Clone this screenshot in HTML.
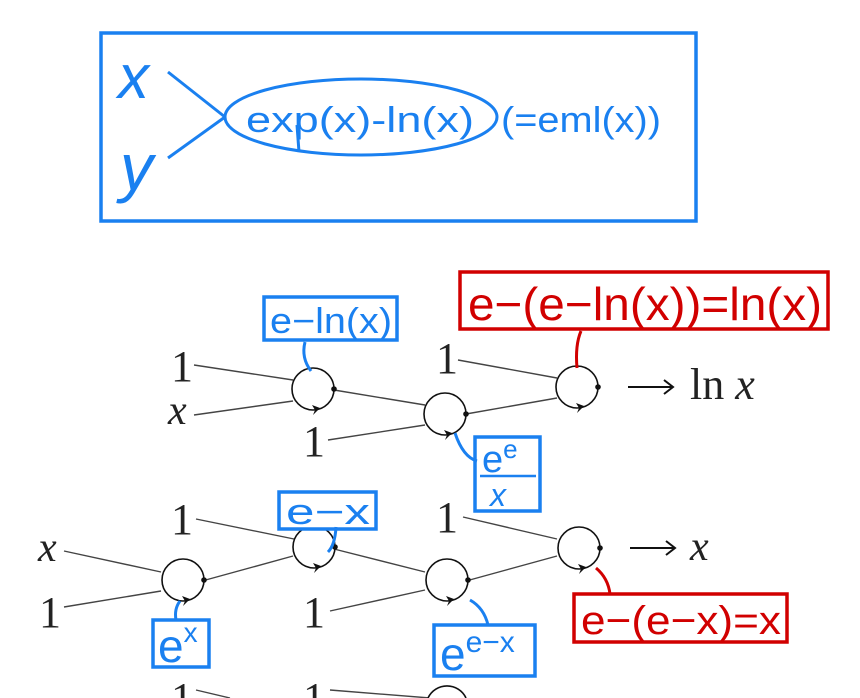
<!DOCTYPE html>
<html><head><meta charset="utf-8"><style>
html,body{margin:0;padding:0;background:#fff;width:860px;height:698px;overflow:hidden}
svg{display:block}
.b{fill:#1a80f0;font-family:"Liberation Sans",sans-serif}
.r{fill:#d10000;font-family:"Liberation Sans",sans-serif}
.m{fill:#222;font-family:"Liberation Serif",serif;font-size:44px}
.mi{fill:#222;font-family:"Liberation Serif",serif;font-size:42px;font-style:italic}
</style></head><body>
<svg width="860" height="698" viewBox="0 0 860 698" xmlns="http://www.w3.org/2000/svg">
<rect x="101" y="33" width="595" height="188" fill="none" stroke="#1a80f0" stroke-width="3.5"/>
<text x="118" y="98" class="b" font-size="62" font-style="italic">x</text>
<text x="120" y="190" class="b" font-size="66" font-style="italic">y</text>
<line x1="168" y1="72" x2="225" y2="117" stroke="#1a80f0" stroke-width="3"/>
<line x1="168" y1="158" x2="225" y2="117" stroke="#1a80f0" stroke-width="3"/>
<ellipse cx="361" cy="117" rx="136" ry="38" fill="none" stroke="#1a80f0" stroke-width="3"/>
<line x1="297" y1="125" x2="299" y2="152" stroke="#1a80f0" stroke-width="3"/>
<text x="246" y="132" class="b" font-size="36" textLength="228" lengthAdjust="spacingAndGlyphs">exp(x)-ln(x)</text>
<text x="501" y="132" class="b" font-size="36" textLength="160" lengthAdjust="spacingAndGlyphs">(=eml(x))</text>

<g stroke="#444" stroke-width="1.4" fill="none">
<line x1="194" y1="365" x2="293" y2="380"/>
<line x1="194" y1="415" x2="293" y2="401"/>
<line x1="334" y1="390" x2="425" y2="405"/>
<line x1="458" y1="360" x2="557" y2="378"/>
<line x1="328" y1="440" x2="425" y2="425"/>
<line x1="466" y1="414" x2="557" y2="398"/>
<line x1="64" y1="551" x2="161" y2="572"/>
<line x1="64" y1="607" x2="161" y2="591"/>
<line x1="196" y1="519" x2="294" y2="539"/>
<line x1="202" y1="581" x2="293" y2="556"/>
<line x1="330" y1="611" x2="425" y2="590"/>
<line x1="334" y1="549" x2="425" y2="572"/>
<line x1="463" y1="517" x2="557" y2="539"/>
<line x1="466" y1="581" x2="557" y2="556"/>
<line x1="196" y1="690" x2="230" y2="698"/>
<line x1="330" y1="690" x2="430" y2="698"/>
</g>
<g stroke="#111" stroke-width="1.6" fill="#fff">
<circle cx="313" cy="389" r="21"/>
<circle cx="445" cy="414" r="21"/>
<circle cx="577" cy="387" r="21"/>
<circle cx="183" cy="580" r="21"/>
<circle cx="314" cy="547" r="21"/>
<circle cx="447" cy="580" r="21"/>
<circle cx="579" cy="548" r="21"/>
<path d="M428 698 a21 21 0 0 1 38 0"/>
</g>
<g fill="#111">
<circle cx="334" cy="389" r="2.8"/><circle cx="466" cy="414" r="2.8"/><circle cx="598" cy="387" r="2.8"/>
<circle cx="204" cy="580" r="2.8"/><circle cx="335" cy="547" r="2.8"/><circle cx="468" cy="580" r="2.8"/><circle cx="600" cy="548" r="2.8"/>
<path d="M312 405 l8 3 l-7 7 l2 -5z"/>
<path d="M444 430 l8 3 l-7 7 l2 -5z"/>
<path d="M576 403 l8 3 l-7 7 l2 -5z"/>
<path d="M182 596 l8 3 l-7 7 l2 -5z"/>
<path d="M313 563 l8 3 l-7 7 l2 -5z"/>
<path d="M446 596 l8 3 l-7 7 l2 -5z"/>
<path d="M578 564 l8 3 l-7 7 l2 -5z"/>
</g>
<text x="171" y="381" class="m">1</text>
<text x="168" y="424" class="mi">x</text>
<text x="436" y="373" class="m">1</text>
<text x="303" y="456" class="m">1</text>
<g stroke="#111" stroke-width="2" fill="none">
<line x1="628" y1="387" x2="672" y2="387"/><path d="M664 380 L673 387 L664 394"/>
<line x1="630" y1="548" x2="674" y2="548"/><path d="M666 541 L675 548 L666 555"/>
</g>
<text x="690" y="399" class="m">ln <tspan font-style="italic">x</tspan></text>
<text x="38" y="561" class="mi">x</text>
<text x="39" y="627" class="m">1</text>
<text x="171" y="534" class="m">1</text>
<text x="303" y="627" class="m">1</text>
<text x="436" y="532" class="m">1</text>
<text x="690" y="560" class="mi">x</text>
<text x="171" y="713" class="m">1</text>
<text x="303" y="713" class="m">1</text>

<g fill="#fff" stroke="#1a80f0" stroke-width="3.5">
<rect x="264" y="297" width="133" height="43"/>
<rect x="475" y="437" width="65" height="74"/>
<rect x="279" y="492" width="97" height="37"/>
<rect x="153" y="620" width="56" height="47"/>
<rect x="434" y="625" width="101" height="51"/>
</g>
<g fill="#fff" stroke="#d10000" stroke-width="3.5">
<rect x="460" y="272" width="368" height="57"/>
<rect x="574" y="594" width="213" height="48"/>
</g>
<g fill="none" stroke="#1a80f0" stroke-width="3">
<path d="M305 342 q-4 16 6 29"/>
<path d="M455 433 q8 24 22 28"/>
<path d="M336 527 q-1 18 -8 25"/>
<path d="M180 601 q-6 8 -4 19"/>
<path d="M470 600 q14 8 18 25"/>
<line x1="480" y1="476" x2="536" y2="476" stroke-width="2.5"/>
</g>
<g fill="none" stroke="#d10000" stroke-width="3">
<path d="M581 331 q-6 14 -4 37"/>
<path d="M596 568 q12 10 14 26"/>
</g>
<text x="270" y="333" class="b" font-size="36" textLength="122" lengthAdjust="spacingAndGlyphs">e−ln(x)</text>
<text x="482" y="472" class="b" font-size="38">e<tspan font-size="26" dy="-14">e</tspan></text>
<text x="490" y="506" class="b" font-size="32" font-style="italic">x</text>
<text x="286" y="524" class="b" font-size="36" textLength="84" lengthAdjust="spacingAndGlyphs">e−x</text>
<text x="158" y="662" class="b" font-size="46">e<tspan font-size="28" dy="-20">x</tspan></text>
<text x="440" y="670" class="b" font-size="46">e<tspan font-size="30" dy="-18">e−x</tspan></text>
<text x="468" y="320" class="r" font-size="46" textLength="354" lengthAdjust="spacingAndGlyphs">e−(e−ln(x))=ln(x)</text>
<text x="581" y="634" class="r" font-size="40" textLength="200" lengthAdjust="spacingAndGlyphs">e−(e−x)=x</text>
</svg>
</body></html>
